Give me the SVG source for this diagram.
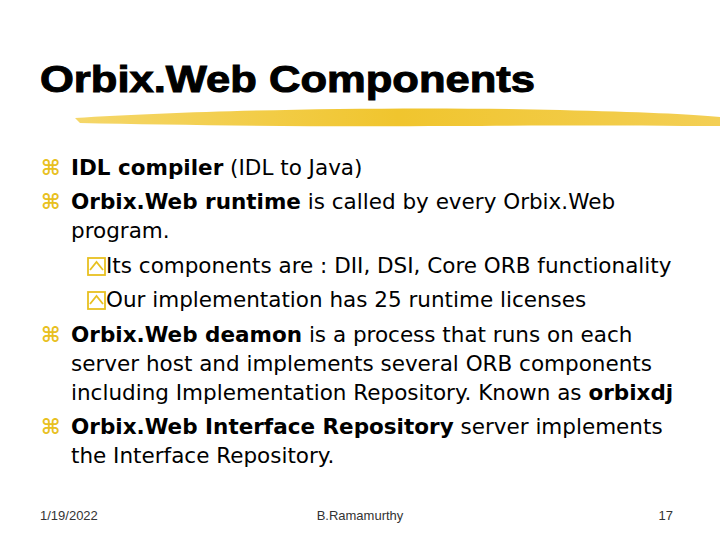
<svg xmlns="http://www.w3.org/2000/svg" width="720" height="540" viewBox="0 0 720 540">
<style>
.t{font-family:"DejaVu Sans",Verdana,sans-serif;font-size:21.5px;fill:#000}
.b{font-weight:bold}
.bul{font-family:"DejaVu Sans",sans-serif;font-size:21px;font-weight:bold;fill:#E8C020}
.f{font-family:"Liberation Sans",Arial,sans-serif;font-size:13px;fill:#333}
</style>
<defs>
<linearGradient id="g" x1="0" x2="1"><stop offset="0" stop-color="#F5D76A"/><stop offset="0.5" stop-color="#F0C52E"/><stop offset="1" stop-color="#F3CF55"/></linearGradient>
<g id="sb"><rect x="0" y="-16" width="17" height="17" fill="none" stroke="#E8C020" stroke-width="1.8"/><polyline points="2,-4 8.5,-12 15,-4" fill="none" stroke="#E8C020" stroke-width="1.8"/></g>
</defs>
<rect width="720" height="540" fill="#fff"/>
<g id="title"><text x="40" y="92" font-family="Liberation Sans,Arial,sans-serif" font-weight="bold" font-size="37" textLength="495" lengthAdjust="spacingAndGlyphs" fill="#000" stroke="#000" stroke-width="1">Orbix.Web Components</text></g>
<path d="M75 118 C200 110 400 106 560 110 C640 112 690 114 720 117 L720 126 C650 126 560 125 450 126 C300 127 180 125 80 123 Z" fill="url(#g)"/>
<g id="body">
<text class="bul" x="41" y="175">⌘</text>
<text class="t" x="71" y="175"><tspan class="b">IDL compiler</tspan> (IDL to Java)</text>
<text class="bul" x="41" y="209">⌘</text>
<text class="t" x="71" y="209"><tspan class="b">Orbix.Web runtime</tspan> is called by every Orbix.Web</text>
<text class="t" x="71" y="238">program.</text>
<use href="#sb" x="88" y="274"/>
<text class="t" x="106" y="273">Its components are : DII, DSI, Core ORB functionality</text>
<use href="#sb" x="88" y="308"/>
<text class="t" x="106" y="307">Our implementation has 25 runtime licenses</text>
<text class="bul" x="41" y="342">⌘</text>
<text class="t" x="71" y="342"><tspan class="b">Orbix.Web deamon</tspan> is a process that runs on each</text>
<text class="t" x="71" y="371">server host and implements several ORB components</text>
<text class="t" x="71" y="400">including Implementation Repository. Known as <tspan class="b">orbixdj</tspan></text>
<text class="bul" x="41" y="434">⌘</text>
<text class="t" x="71" y="434"><tspan class="b">Orbix.Web Interface Repository</tspan> server implements</text>
<text class="t" x="71" y="463">the Interface Repository.</text>
</g>
<g id="footer">
<text class="f" x="40" y="520">1/19/2022</text>
<text class="f" x="360" y="520" text-anchor="middle">B.Ramamurthy</text>
<text class="f" x="673" y="520" text-anchor="end">17</text>
</g>
</svg>
